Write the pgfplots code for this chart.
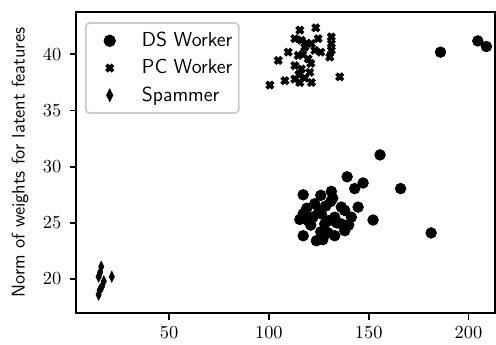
\documentclass[border=0pt]{standalone}
\usepackage{pgfplots}
\pgfplotsset{compat=1.18}
\begin{document}
\begin{tikzpicture}
\begin{axis}[
  scale only axis,
  width=228pt, height=164pt,
  xmin=3.35, xmax=213.3, ymin=16.94, ymax=43.78,
  xtick={50,100,150,200}, ytick={20,25,30,35,40},
  tick align=outside, tick pos=left,
  major tick length=3.5pt,
  axis line style={line width=1.1pt},
  every tick/.style={black, line width=1pt},
  yticklabel style={xshift=-1pt},
  ylabel={\sffamily Norm of weights for latent features},
  ylabel style={yshift=1pt},
  legend style={at={(0.0216,0.966)}, anchor=north west, draw=black!20, rounded corners=2pt,
    font=\sffamily\fontsize{11}{13.2}\selectfont, row sep=1.5pt, inner xsep=1.5pt, inner ysep=3pt, line width=0.9pt,
    /tikz/every odd column/.style={column sep=0pt}},
  legend image code/.code={\path[draw=none,fill=none] (0pt,-1pt) (27pt,1pt); \draw[#1] plot coordinates {(11.5pt,0pt)};},
  legend cell align=left,
]
\addplot[only marks, mark=*, mark size=2.9pt, black] coordinates {
(186,40.2) (204.7,41.2) (209,40.7)
(155.7,31.05) (139.2,29.1) (147.2,28.55) (143,28.05) (166,28.05)
(131.3,27.8) (126,27.45) (117.2,27.5) (123,26.7) (136.3,26.4) (138,26.1)
(144.7,26.4) (117.2,25.8) (126.3,25.8) (133,25.5) (141.3,25.5) (152.2,25.25)
(119.7,25.2) (128,24.9) (136.3,24.9) (129.7,24.1) (133,23.85) (117.2,23.85)
(123.8,23.4) (181.3,24.1) (127,23.5) (121,24.8) (130,25.2) (125,26.0)
(134,25.0) (128.5,26.5) (122,25.5) (115.5,25.3) (131,26.9) (140,24.8)
(126,24.2) (119,26.3) (138,24.3) (132,27.2)
};
\addlegendentry{DS Worker}
\addplot[only marks, mark=x, mark size=2.5pt, black, mark options={line width=2pt}] coordinates {
(123.5,42.37) (115.5,42.16) (131.3,41.56) (131.3,40.96) (131.3,40.36) (130.5,39.76)
(121.3,40.96) (123,40.36) (113,41.4) (116.3,41.26) (109.7,40.2) (114.7,39.9)
(119.7,39.6) (104.7,39.46) (113,39.0) (116.3,38.7) (120.5,38.4) (108,37.66)
(113,37.8) (115.5,37.5) (121.3,37.5) (100.5,37.27) (135.5,38.0) (118,40.66)
(124.7,41.4) (117,40.0) (119,41.0) (121,39.2) (115,38.2) (126,40.2) (118,37.9)
};
\addlegendentry{PC Worker}
\addplot[only marks, mark=diamond*, mark size=2.9pt, black, mark options={xscale=0.65}] coordinates {
(16,21.1) (14.7,20.2) (21.3,20.2) (16.3,19.3) (14.7,18.6) (17.3,19.8) (15.5,20.6) (15.2,19.0)
};
\addlegendentry{Spammer}
\end{axis}
\path ([xshift=-3pt]current bounding box.west) ([yshift=6.5pt]current axis.north);
\end{tikzpicture}
\end{document}
